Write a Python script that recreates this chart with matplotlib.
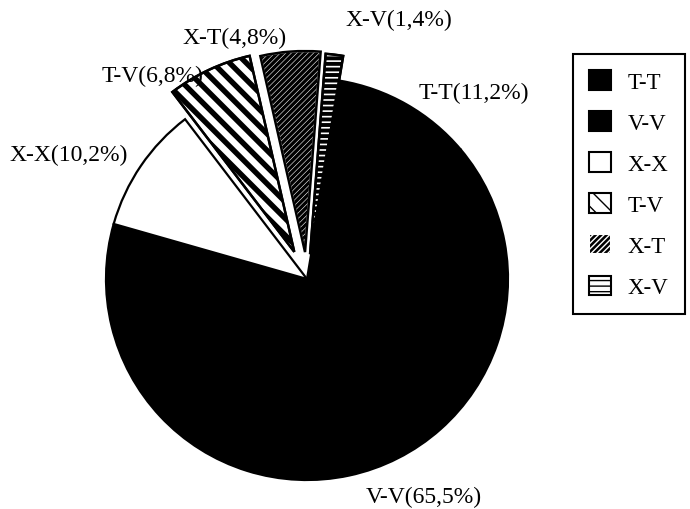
import matplotlib
matplotlib.use("Agg")
from matplotlib import pyplot as plt
from matplotlib.patches import Patch, Wedge

plt.rcParams['font.family'] = ['Liberation Serif', 'DejaVu Serif']

labels = ["T-T", "V-V", "X-X", "T-V", "X-T", "X-V"]
shares = [11.2, 65.5, 10.2, 6.8, 4.8, 1.4]
pct_text = ["11,2%", "65,5%", "10,2%", "6,8%", "4,8%", "1,4%"]

# pie drawn in pixel units: centre, radius and offsets of pulled-out wedges
center = (307, 230)
radius = 201
pull = [0, 0, 0, 30, 27, 25]

faces = ["black", "black", "white", "white", "black", "white"]
hatches = [None, None, None, "\\\\", "//////", "---"]
hatch_cols = ["black", "black", "black", "black", "white", "black"]
hatch_lw = [1, 1, 1, 3.9, 0.4, 2.8]

# where each label sits (pixels, y from top)
label_pos = [(474, 93), (424, 497), (69, 155), (152, 76), (235, 38), (399, 20)]

fig = plt.figure(figsize=(6.9, 5.1), dpi=100)
ax = fig.add_axes([0, 0, 1, 1])

wedges, _ = ax.pie(shares, explode=pull, radius=radius, center=center,
                   startangle=80.5, counterclock=False,
                   wedgeprops=dict(linewidth=1.6, edgecolor="black"))
ax.set_xlim(0, 690)
ax.set_ylim(0, 510)
ax.set_aspect("equal")
ax.axis("off")

for w, fc, h, hc, hl in zip(wedges, faces, hatches, hatch_cols, hatch_lw):
    w.set_facecolor(fc)
    if h:
        w.set_hatch(h)
        w.set_edgecolor(hc)
        w.set_hatch_linewidth(hl)
        # black outline on top, since the hatch takes the edge colour
        ax.add_patch(Wedge(w.center, w.r, w.theta1, w.theta2, fill=False,
                           edgecolor="black", linewidth=1.8, zorder=3))

for lab, pct, (px, py) in zip(labels, pct_text, label_pos):
    ax.text(px, 510 - py, f"{lab}({pct})", ha="center", va="center", fontsize=17)

handles = []
for fc, h, hc, hl in zip(faces, hatches, hatch_cols, hatch_lw):
    p = Patch(facecolor=fc, edgecolor=hc if h else "black", hatch=h, linewidth=1.5)
    if h:
        p.set_hatch_linewidth(hl)
    handles.append(p)

leg = ax.legend(handles, labels, loc="upper left", bbox_to_anchor=(573 / 690, 1 - 55 / 510),
                bbox_transform=ax.transAxes, borderaxespad=0, fontsize=16.5,
                handlelength=0.95, handleheight=0.95, handletextpad=0.75,
                labelspacing=0.8, borderpad=0.7, fancybox=False, framealpha=1)
leg.get_frame().set_edgecolor("black")
leg.get_frame().set_linewidth(1.5)

fig.savefig("out.png", dpi=100)
